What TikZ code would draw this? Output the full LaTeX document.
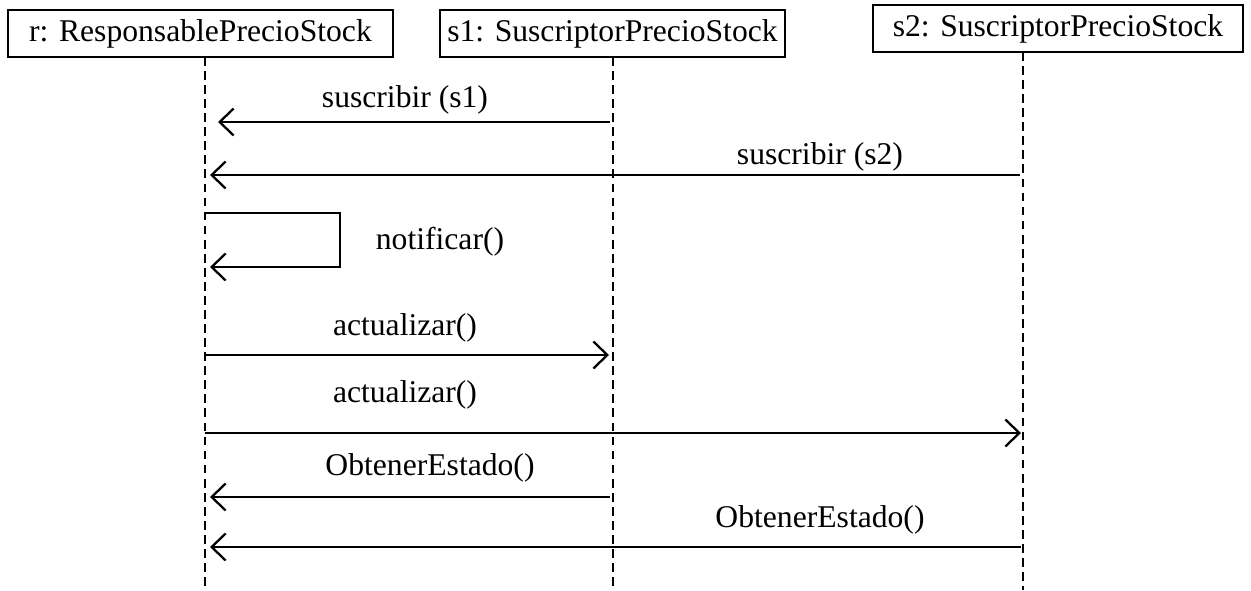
\documentclass[tikz,border=0pt]{standalone}
\usepackage{fontspec}
\setmainfont{Liberation Serif}
\usepackage{tikz}
\usetikzlibrary{arrows.meta,positioning}
\tikzset{objbox/.style={draw,semithick,rectangle,minimum height=0.94cm,inner sep=0,font=\fontsize{18}{22}\selectfont},
    lifeline/.style={semithick,dash pattern=on 5pt off 3pt},
    msg/.style={line width=1.2pt,-{Straight Barb[length=2.8mm,width=5.4mm,line width=1.3pt]}},
    msglabel/.style={inner sep=0,font=\fontsize{18}{22}\selectfont}}

\begin{document}
\begin{tikzpicture}

\useasboundingbox (0,0) rectangle (25.02,-11.8);

% objects

\node (resp) at (4.01,-0.67) [objbox,minimum width=7.7cm] {r: ResponsablePrecioStock};
\node (sus1) at (12.25,-0.67) [objbox,minimum width=6.9cm] {s1: SuscriptorPrecioStock};
\node (sus2) at (21.16,-0.57) [objbox,minimum width=7.4cm] {s2: SuscriptorPrecioStock};

% lifelines

\coordinate (respTop) at (4.1,-1.14);
\coordinate (respEnd) at (4.1,-11.8);
\coordinate (sus1Top) at (12.26,-1.14);
\coordinate (sus1End) at (12.26,-11.8);
\coordinate (sus2Top) at (20.46,-1.04);
\coordinate (sus2End) at (20.46,-11.8);

\draw [lifeline] (respTop) -- (respEnd);
\draw [lifeline] (sus1Top) -- (sus1End);
\draw [lifeline] (sus2Top) -- (sus2End);

% messages

\coordinate (m1a) at (12.2,-2.44);
\coordinate (m1b) at (4.36,-2.44);
\coordinate (m2a) at (20.4,-3.5);
\coordinate (m2b) at (4.2,-3.5);
\coordinate (m3a) at (4.1,-4.26);
\coordinate (m3b) at (6.8,-4.26);
\coordinate (m3c) at (6.8,-5.34);
\coordinate (m3d) at (4.2,-5.34);
\coordinate (m4a) at (4.1,-7.1);
\coordinate (m4b) at (12.18,-7.1);
\coordinate (m5a) at (4.1,-8.66);
\coordinate (m5b) at (20.42,-8.66);
\coordinate (m6a) at (12.2,-9.94);
\coordinate (m6b) at (4.2,-9.94);
\coordinate (m7a) at (20.42,-10.94);
\coordinate (m7b) at (4.2,-10.94);

\draw [msg] (m1a) -- (m1b);
\draw [msg] (m2a) -- (m2b);
\draw [msg] (m3a) -- (m3b) -- (m3c) -- (m3d);
\draw [msg] (m4a) -- (m4b);
\draw [msg] (m5a) -- (m5b);
\draw [msg] (m6a) -- (m6b);
\draw [msg] (m7a) -- (m7b);

\node (l1) at (8.1,-2.0) [msglabel] {suscribir (s1)};
\node (l2) at (16.4,-3.14) [msglabel] {suscribir (s2)};
\node (l3) at (8.8,-4.84) [msglabel] {notificar()};
\node (l4) at (8.1,-6.56) [msglabel] {actualizar()};
\node (l5) at (8.1,-7.9) [msglabel] {actualizar()};
\node (l6) at (8.6,-9.36) [msglabel] {ObtenerEstado()};
\node (l7) at (16.4,-10.4) [msglabel] {ObtenerEstado()};

\end{tikzpicture}
\end{document}
